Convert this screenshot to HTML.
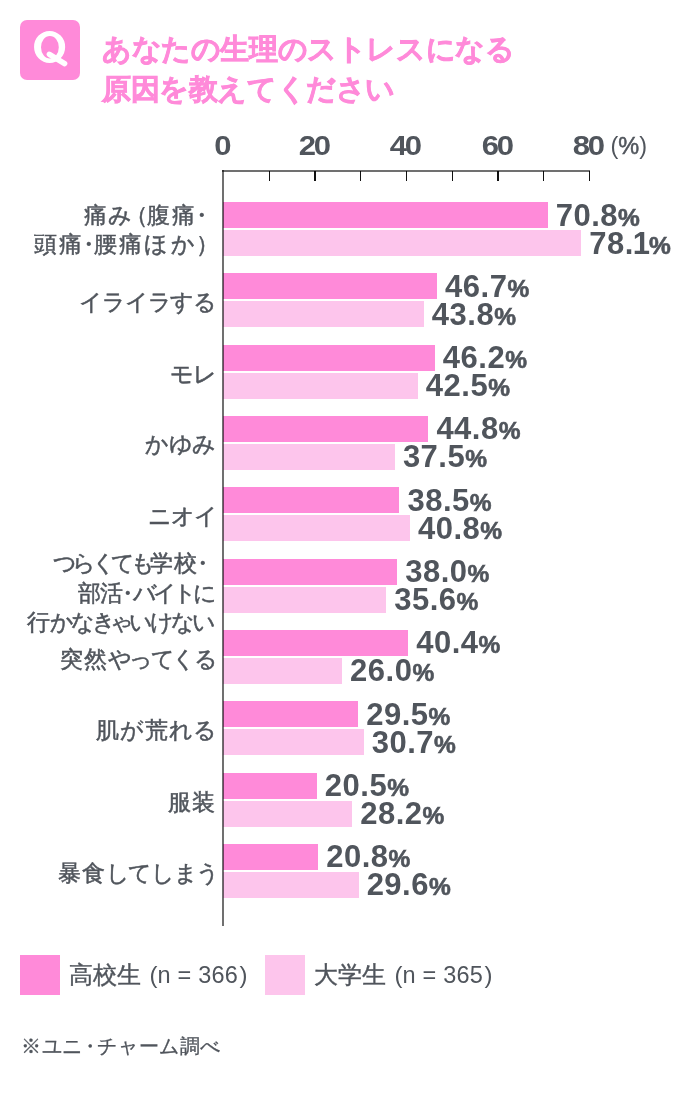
<!DOCTYPE html>
<html><head><meta charset="utf-8">
<style>
html,body{margin:0;padding:0;background:#fff;}
body{width:688px;height:1100px;position:relative;overflow:hidden;font-family:"Liberation Sans",sans-serif;color:#50555c;}
.abs{position:absolute;white-space:nowrap;}
.q{left:20px;top:20px;width:60px;height:60px;border-radius:7px;background:#ff8ad9;color:#fff;font-weight:bold;font-size:42px;line-height:60px;text-align:center;}
.title{left:102px;top:30px;font-size:29px;line-height:39.5px;font-weight:bold;color:#ff8ad9;letter-spacing:-0.4px;-webkit-text-stroke:0.7px #ff8ad9;}
.axis{position:absolute;background:#707070;mix-blend-mode:multiply;z-index:2;}
.axl{position:absolute;top:133px;font-size:27px;font-weight:bold;line-height:26px;width:60px;margin-left:-30px;text-align:center;transform:scaleX(1.15);letter-spacing:-2px;text-indent:-2px;}
.bar{position:absolute;left:222.8px;height:26px;}
.d{background:#ff8ad9;}
.l{background:#fdc5ec;}
.lab{position:absolute;font-size:23px;line-height:30px;white-space:nowrap;-webkit-text-stroke:0.5px #50555c;}
.val{position:absolute;font-weight:bold;font-size:31px;line-height:30px;letter-spacing:0.5px;white-space:nowrap;}
.val span{font-size:24.5px;letter-spacing:0;-webkit-text-stroke:0.6px #50555c;}
.leg{position:absolute;top:955px;width:40px;height:40px;}
.legt{position:absolute;top:960px;font-size:24px;line-height:30px;white-space:nowrap;-webkit-text-stroke:0.4px #50555c;}
.legp{position:absolute;top:960px;font-size:24px;line-height:30px;}
.legn{position:absolute;top:960px;font-size:23.5px;line-height:30px;letter-spacing:0.2px;white-space:nowrap;}
.foot{position:absolute;left:21px;top:1031px;font-size:20px;line-height:30px;letter-spacing:0.6px;white-space:nowrap;-webkit-text-stroke:0.3px #50555c;}
.nd{margin:0 -6px;letter-spacing:0}.np{margin-left:-8px;margin-right:-2px}.npr{margin-left:-3px}.sm{margin:0 -3px}.k{letter-spacing:0.3px}</style></head><body>
<div class="abs q"></div><svg class="abs" style="left:0;top:0" width="100" height="100"><path fill="#fff" fill-rule="evenodd" d="M34.05 46.9a15.55 16 0 1 0 31.1 0a15.55 16 0 1 0 -31.1 0zM41.0 47.2a8.9 11.3 0 1 0 17.8 0a8.9 11.3 0 1 0 -17.8 0z"/><line x1="49.4" y1="54.3" x2="64.6" y2="63.6" stroke="#fff" stroke-width="5.5" stroke-linecap="round"/></svg>
<div class="abs title">あなたの生理のストレスになる<br>原因を教えてください</div>
<div class="axis" style="left:222px;top:170px;width:368px;height:2px"></div>
<div class="axis" style="left:222px;top:170px;width:2px;height:756px"></div>
<div class="axis" style="left:268.60px;top:171px;width:1.4px;height:10px;background:#111"></div>
<div class="axis" style="left:314.35px;top:171px;width:1.4px;height:10px;background:#111"></div>
<div class="axis" style="left:360.10px;top:171px;width:1.4px;height:10px;background:#111"></div>
<div class="axis" style="left:405.85px;top:171px;width:1.4px;height:10px;background:#111"></div>
<div class="axis" style="left:451.60px;top:171px;width:1.4px;height:10px;background:#111"></div>
<div class="axis" style="left:497.35px;top:171px;width:1.4px;height:10px;background:#111"></div>
<div class="axis" style="left:543.10px;top:171px;width:1.4px;height:10px;background:#111"></div>
<div class="axis" style="left:588.85px;top:171px;width:1.4px;height:10px;background:#111"></div>
<div class="axl" style="left:223.00px">0</div>
<div class="axl" style="left:314.50px">20</div>
<div class="axl" style="left:406.00px">40</div>
<div class="axl" style="left:497.50px">60</div>
<div class="axl" style="left:589.00px">80</div>
<div class="abs" style="left:610.5px;top:133px;font-size:23.5px;line-height:26px">(<span style="-webkit-text-stroke:0.5px #50555c">%</span>)</div>
<div class="bar d" style="top:202.00px;width:324.90px"></div>
<div class="bar l" style="top:230.00px;width:358.40px"></div>
<div class="val" style="left:555.70px;top:200.50px">70.8<span>%</span></div>
<div class="val" style="left:589.20px;top:228.50px">78.<i style="font-style:normal;margin:0 -1.5px 0 -1px">1</i><span>%</span></div>
<div class="bar d" style="top:273.33px;width:214.31px"></div>
<div class="bar l" style="top:301.33px;width:201.00px"></div>
<div class="val" style="left:445.11px;top:271.83px">46.7<span>%</span></div>
<div class="val" style="left:431.80px;top:299.83px">43.8<span>%</span></div>
<div class="bar d" style="top:344.66px;width:212.01px"></div>
<div class="bar l" style="top:372.66px;width:195.03px"></div>
<div class="val" style="left:442.81px;top:343.16px">46.2<span>%</span></div>
<div class="val" style="left:425.83px;top:371.16px">42.5<span>%</span></div>
<div class="bar d" style="top:415.99px;width:205.59px"></div>
<div class="bar l" style="top:443.99px;width:172.09px"></div>
<div class="val" style="left:436.39px;top:414.49px">44.8<span>%</span></div>
<div class="val" style="left:402.89px;top:442.49px">37.5<span>%</span></div>
<div class="bar d" style="top:487.32px;width:176.68px"></div>
<div class="bar l" style="top:515.32px;width:187.23px"></div>
<div class="val" style="left:407.48px;top:485.82px">38.5<span>%</span></div>
<div class="val" style="left:418.03px;top:513.82px">40.8<span>%</span></div>
<div class="bar d" style="top:558.65px;width:174.38px"></div>
<div class="bar l" style="top:586.65px;width:163.37px"></div>
<div class="val" style="left:405.18px;top:557.15px">38.0<span>%</span></div>
<div class="val" style="left:394.17px;top:585.15px">35.6<span>%</span></div>
<div class="bar d" style="top:629.98px;width:185.40px"></div>
<div class="bar l" style="top:657.98px;width:119.31px"></div>
<div class="val" style="left:416.20px;top:628.48px">40.4<span>%</span></div>
<div class="val" style="left:350.11px;top:656.48px">26.0<span>%</span></div>
<div class="bar d" style="top:701.31px;width:135.38px"></div>
<div class="bar l" style="top:729.31px;width:140.88px"></div>
<div class="val" style="left:366.18px;top:699.81px">29.5<span>%</span></div>
<div class="val" style="left:371.68px;top:727.81px">30.7<span>%</span></div>
<div class="bar d" style="top:772.64px;width:94.07px"></div>
<div class="bar l" style="top:800.64px;width:129.41px"></div>
<div class="val" style="left:324.87px;top:771.14px">20.5<span>%</span></div>
<div class="val" style="left:360.21px;top:799.14px">28.2<span>%</span></div>
<div class="bar d" style="top:843.97px;width:95.45px"></div>
<div class="bar l" style="top:871.97px;width:135.83px"></div>
<div class="val" style="left:326.25px;top:842.47px">20.8<span>%</span></div>
<div class="val" style="left:366.63px;top:870.47px">29.6<span>%</span></div>
<div class="lab" style="left:83.5px;top:200.0px;letter-spacing:1.0px"><span class="k" style="letter-spacing:1.5px">痛</span>み<span class="np">（</span><span class="k" style="letter-spacing:1.5px">腹痛</span><span class="nd">・</span></div>
<div class="lab" style="left:34.0px;top:229.45px;letter-spacing:3.45px"><span class="k" style="letter-spacing:1.7px">頭痛</span><span class="nd">・</span><span class="k" style="letter-spacing:1.7px">腰痛</span>ほか<span class="npr">）</span></div>
<div class="lab" style="left:79.2px;top:287.35px;letter-spacing:-1.2px">イライラする</div>
<div class="lab" style="left:170.2px;top:359.0px;letter-spacing:-1.6px">モレ</div>
<div class="lab" style="left:145.0px;top:428.75px;letter-spacing:-0.33px">かゆみ</div>
<div class="lab" style="left:148.0px;top:500.85px;letter-spacing:-0.93px">ニオイ</div>
<div class="lab" style="left:52.7px;top:547.75px;letter-spacing:-4.54px">つらくても<span class="k" style="letter-spacing:0.5px">学校</span><span class="nd">・</span></div>
<div class="lab" style="left:77.8px;top:577.8px;letter-spacing:-4.04px"><span class="k" style="letter-spacing:-1px">部活</span><span class="nd">・</span>バイトに</div>
<div class="lab" style="left:26.8px;top:606.75px;letter-spacing:-2.95px"><span class="k" style="letter-spacing:0.5px">行</span>かなき<span class="sm">ゃ</span>いけない</div>
<div class="lab" style="left:59.8px;top:644.4px;letter-spacing:-2.56px"><span class="k" style="letter-spacing:1px">突然</span>やってくる</div>
<div class="lab" style="left:95.8px;top:715.4px;letter-spacing:0.34px"><span class="k" style="letter-spacing:1.5px">肌</span>が<span class="k" style="letter-spacing:1.5px">荒</span>れる</div>
<div class="lab" style="left:167.7px;top:787.3px;letter-spacing:-1.2px"><span class="k" style="letter-spacing:1.5px">服装</span></div>
<div class="lab" style="left:57.8px;top:858.4px;letter-spacing:-1.36px"><span class="k" style="letter-spacing:1px">暴食</span>してしまう</div>
<div class="leg d" style="left:20px"></div>
<div class="legt" style="left:69px">高校生</div><div class="legp" style="left:149.5px">(</div><div class="legn" style="left:157.5px">n = 366</div><div class="legp" style="left:239.5px">)</div>
<div class="legt" style="left:314px">大学生</div><div class="legp" style="left:394.5px">(</div><div class="legn" style="left:402.5px">n = 365</div><div class="legp" style="left:484.5px">)</div>
<div class="leg l" style="left:265px"></div>
<div class="foot">※ユニ<span style="margin:0 -3px">・</span>チャーム調べ</div>
</body></html>
